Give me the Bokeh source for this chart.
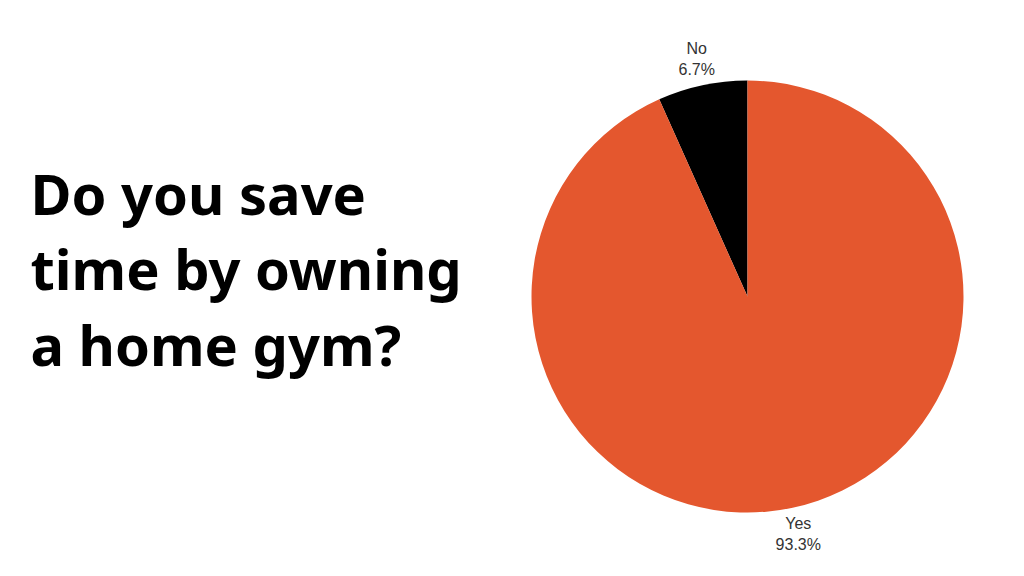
import math
from bokeh.plotting import figure
from bokeh.models import Range1d
from bokeh.core.properties import value
from bokeh.embed import file_html
from bokeh.resources import INLINE

categories = ["No", "Yes"]
percents = [6.7, 93.3]
colors = ["#000000", "#E4572E"]
title_lines = ["Do you save", "time by owning", "a home gym?"]

W, H = 1008, 560
p = figure(width=W, height=H, output_backend="svg", toolbar_location=None,
           x_range=Range1d(0, W), y_range=Range1d(576 - H, 576),
           min_border=0, outline_line_color=None)
p.axis.visible = False
p.grid.visible = False
p.background_fill_color = "#ffffff"
p.border_fill_color = "#ffffff"

cx, cy, r = 747, 576 - 296, 216
total = sum(percents)
start = math.pi / 2
starts, ends, mids = [], [], []
for v in percents:
    a = v / total * 2 * math.pi
    starts.append(start)
    ends.append(start + a)
    mids.append(start + a / 2)
    start += a

p.wedge(x=[cx] * len(percents), y=[cy] * len(percents), radius=r,
        start_angle=starts, end_angle=ends, fill_color=colors,
        line_color=None)

lr = 243
lx = [cx + lr * math.cos(m) for m in mids]
ly = [cy + lr * math.sin(m) for m in mids]
labels = [f"{c}\n{v}%" for c, v in zip(categories, percents)]
p.text(x=lx, y=ly, text=labels, text_align="center", text_baseline="middle",
       text_font=value("Liberation Sans"), text_font_size="16px",
       text_color="#333333", text_line_height=1.25)

base_y = [576 - 192, 576 - 267, 576 - 343]
p.text(x=[30] * 3, y=base_y, text=title_lines, text_align="left",
       text_baseline="alphabetic", text_font=value("Noto Sans"),
       text_font_style="bold", text_font_size="56px", text_color="#000000")

open("out.html", "w").write(file_html(p, INLINE))
